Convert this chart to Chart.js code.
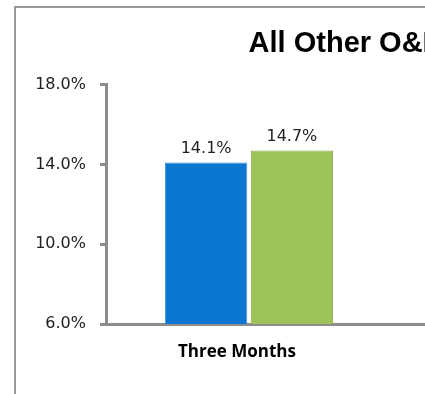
<!DOCTYPE html>
<html>
<head>
<meta charset="utf-8">
<script src="https://cdn.jsdelivr.net/npm/chart.js@4.4.1/dist/chart.umd.min.js"></script>
<style>
  html, body { margin: 0; padding: 0; background: #fff; overflow: hidden; }
  #page { position: relative; width: 425px; height: 394px; overflow: hidden; }
  #frame { position: absolute; left: 14px; top: 6px; border: 2px solid #9a9a9a; }
  canvas { display: block; }
</style>
</head>
<body>
<div id="page">
  <div id="frame">
    <canvas id="myChart" width="754" height="420"></canvas>
  </div>
</div>
<script>
// chart values
const chartTitle = 'All Other O&M Costs';
const categories = ['Three Months', ''];
const seriesNames = ['Prior', 'Current'];
const seriesA = [14.1, null];
const seriesB = [14.7, null];
const yTicks = [6, 10, 14, 18];

const barColors = ['#0b77d1', '#9fc35b'];
const barBorders = ['#3a95df', '#86a84a'];

// draws the value above each bar
const valueLabels = {
  id: 'valueLabels',
  afterDatasetsDraw(chart) {
    const ctx = chart.ctx;
    ctx.save();
    ctx.font = '16px "DejaVu Sans"';
    ctx.fillStyle = '#222';
    ctx.textAlign = 'center';
    ctx.textBaseline = 'bottom';
    chart.data.datasets.forEach((ds, i) => {
      chart.getDatasetMeta(i).data.forEach((bar, j) => {
        const v = ds.data[j];
        if (v == null) return;
        ctx.fillText(v.toFixed(1) + '%', bar.x, bar.y - 6);
      });
    });
    ctx.restore();
  }
};

const ctx = document.getElementById('myChart');
new Chart(ctx, {
  type: 'bar',
  data: {
    labels: categories,
    datasets: [
      {
        label: seriesNames[0],
        data: seriesA,
        backgroundColor: barColors[0],
        borderColor: barBorders[0],
        borderWidth: 1,
        categoryPercentage: 0.6,
        barPercentage: 0.96
      },
      {
        label: seriesNames[1],
        data: seriesB,
        backgroundColor: barColors[1],
        borderColor: barBorders[1],
        borderWidth: 1,
        categoryPercentage: 0.6,
        barPercentage: 0.96
      }
    ]
  },
  options: {
    responsive: false,
    animation: false,
    layout: { padding: { left: 0, right: 92, top: 0, bottom: 0 } },
    plugins: {
      legend: { display: false },
      tooltip: { enabled: false },
      title: {
        display: true,
        fullSize: false,
        text: chartTitle,
        color: '#000',
        font: { family: 'Liberation Sans', size: 29, weight: 'bold' },
        padding: { top: 19, bottom: 23 }
      }
    },
    scales: {
      x: {
        grid: { display: false },
        border: { display: true, color: '#8c8c8c', width: 3 },
        ticks: {
          color: '#000',
          font: { family: 'Open Sans', size: 17, weight: 'bold' },
          padding: 10,
          labelOffset: -12
        },
        afterFit(scale) { scale.height = 104; }
      },
      y: {
        min: 6,
        max: 18,
        afterBuildTicks(scale) { scale.ticks = yTicks.map(v => ({value: v})); },
        grid: {
          display: true,
          drawOnChartArea: false,
          drawTicks: true,
          tickLength: 6,
          color: '#8c8c8c',
          lineWidth: 3
        },
        border: { display: true, color: '#8c8c8c', width: 3 },
        ticks: {
          color: '#222',
          font: { family: 'DejaVu Sans', size: 16 },
          padding: 14,
          callback: v => v.toFixed(1) + '%'
        },
        afterFit(scale) { scale.width = 90; }
      }
    }
  },
  plugins: [valueLabels]
});
</script>
</body>
</html>
